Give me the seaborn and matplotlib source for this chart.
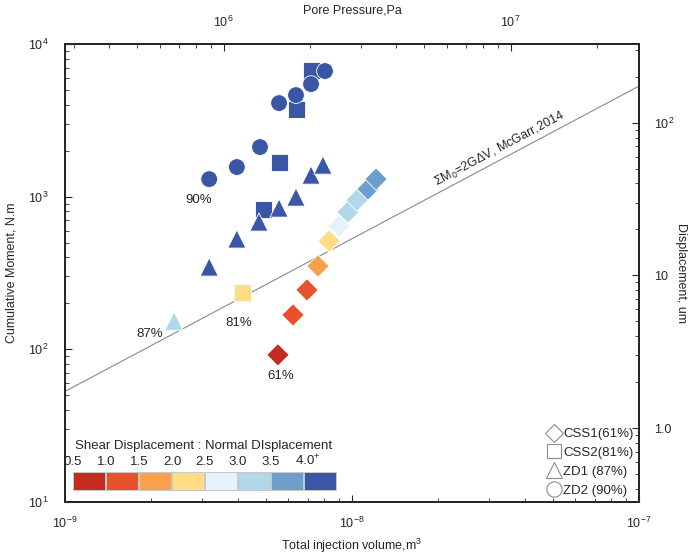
import numpy as np
import pandas as pd
import seaborn as sns
import matplotlib.pyplot as plt
from matplotlib.colors import ListedColormap
from matplotlib.lines import Line2D
from matplotlib.ticker import FixedLocator, FixedFormatter, NullFormatter

sns.set_style("ticks")
plt.rcParams['font.family'] = ['Liberation Sans', 'DejaVu Sans']
plt.rcParams['mathtext.fontset'] = 'custom'
plt.rcParams['mathtext.rm'] = 'Liberation Sans'
plt.rcParams['mathtext.it'] = 'Liberation Sans:italic'

# values
css1_volume = [5.52e-9, 6.23e-9, 6.97e-9, 7.61e-9, 8.32e-9, 9.01e-9, 9.68e-9, 1.041e-8, 1.137e-8, 1.213e-8]
css1_moment = [92, 168, 245, 351, 512, 642, 793, 950, 1122, 1303]
css1_bin = [0, 1, 1, 2, 3, 4, 5, 5, 6, 6]

css2_volume = [4.14e-9, 4.90e-9, 5.57e-9, 6.43e-9, 7.20e-9]
css2_moment = [234, 829, 1686, 3748, 6745]
css2_bin = [3, 7, 7, 7, 7]

zd1_volume = [2.40e-9, 3.18e-9, 3.97e-9, 4.74e-9, 5.57e-9, 6.38e-9, 7.20e-9, 7.92e-9]
zd1_moment = [153, 346, 528, 682, 842, 994, 1385, 1610]
zd1_bin = [5, 7, 7, 7, 7, 7, 7, 7]

zd2_volume = [3.18e-9, 3.97e-9, 4.78e-9, 5.57e-9, 6.38e-9, 7.20e-9, 8.05e-9]
zd2_moment = [1303, 1563, 2113, 4102, 4627, 5461, 6649]
zd2_bin = [7, 7, 7, 7, 7, 7, 7]

samples = ['CSS1', 'CSS2', 'ZD1', 'ZD2']
sample_labels = ['CSS1(61%)', 'CSS2(81%)', 'ZD1 (87%)', 'ZD2 (90%)']
percent_text = ['61%', '81%', '87%', '90%']
percent_pos = [(5.66e-9, 66.8), (4.04e-9, 148.6), (1.98e-9, 126), (2.93e-9, 950)]

ratio_ticks = ['0.5', '1.0', '1.5', '2.0', '2.5', '3.0', '3.5', '4.0$^{+}$']
ratio_colors = ['#C42A20', '#E9512B', '#F9A04D', '#FDDC84',
                '#E3F3F9', '#B0D8E8', '#6C9FCB', '#3A56A4']

mcgarr_volume = [1e-9, 1e-7]
mcgarr_moment = [53, 5300]

moment_per_um = 30.5   # cumulative moment -> displacement
pressure_per_m3 = 2.8e14  # injection volume -> pore pressure

df = pd.concat([
    pd.DataFrame({'volume': css1_volume, 'moment': css1_moment, 'bin': css1_bin, 'sample': 'CSS1'}),
    pd.DataFrame({'volume': css2_volume, 'moment': css2_moment, 'bin': css2_bin, 'sample': 'CSS2'}),
    pd.DataFrame({'volume': zd1_volume, 'moment': zd1_moment, 'bin': zd1_bin, 'sample': 'ZD1'}),
    pd.DataFrame({'volume': zd2_volume, 'moment': zd2_moment, 'bin': zd2_bin, 'sample': 'ZD2'}),
])

markers = {'CSS1': 'D', 'CSS2': 's', 'ZD1': '^', 'ZD2': 'o'}
sizes = {'CSS1': 130, 'CSS2': 150, 'ZD1': 170, 'ZD2': 145}
palette = dict(enumerate(ratio_colors))

fig = plt.figure(figsize=(6.96, 5.57), dpi=100)
ax = fig.add_axes([65 / 696, 1 - 502 / 557, 574 / 696, 458 / 557])

ax.plot(mcgarr_volume, mcgarr_moment, color='#8a8a8a', lw=0.8, zorder=1)

for s in samples:
    sns.scatterplot(data=df[df['sample'] == s], x='volume', y='moment', hue='bin',
                    palette=palette, marker=markers[s], s=sizes[s],
                    edgecolor='white', linewidth=0.6, legend=False, ax=ax, zorder=3)

ax.set_xscale('log')
ax.set_yscale('log')
ax.set_xlim(1e-9, 1e-7)
ax.set_ylim(10, 1e4)
ax.set_xlabel('Total injection volume,m$^3$', fontsize=9, labelpad=4)
ax.set_ylabel('Cumulative Moment, N.m', fontsize=9, labelpad=7)
ax.tick_params(which='both', direction='in', top=False, right=False, labelsize=9)
ax.tick_params(which='major', length=5)
ax.tick_params(axis='x', which='major', pad=10)
ax.tick_params(axis='y', which='major', pad=12)
ax.tick_params(which='minor', length=3)
for sp in ax.spines.values():
    sp.set_linewidth(1.3)

for t, (px, py) in zip(percent_text, percent_pos):
    ax.text(px, py, t, fontsize=9.5, ha='center', va='center')

ax.text(3.28e-8, 2050, r'$\Sigma$M$_0$=2G$\Delta$V, McGarr,2014', fontsize=9,
        rotation=28, ha='center', va='center', rotation_mode='anchor')

# right axis: displacement
ax2 = ax.twinx()
ax2.set_yscale('log')
ax2.set_ylim(10 / moment_per_um, 1e4 / moment_per_um)
ax2.yaxis.set_major_locator(FixedLocator([1, 10, 100]))
ax2.yaxis.set_major_formatter(FixedFormatter(['1.0', '10', '10$^2$']))
ax2.yaxis.set_minor_formatter(NullFormatter())
ax2.tick_params(which='both', direction='in', labelsize=9)
ax2.tick_params(which='major', length=5, pad=11)
ax2.tick_params(which='minor', length=3)
ax2.set_ylabel('Displacement, um', fontsize=9, rotation=270, labelpad=9)

# top axis: pore pressure
ax3 = ax.twiny()
ax3.set_xscale('log')
ax3.set_xlim(1e-9 * pressure_per_m3, 1e-7 * pressure_per_m3)
ax3.tick_params(which='both', direction='in', labelsize=9)
ax3.tick_params(which='major', length=5, pad=10)
ax3.tick_params(which='minor', length=3)
ax3.set_xlabel('Pore Pressure,Pa', fontsize=9, labelpad=1)
for a in (ax2, ax3):
    for sp in a.spines.values():
        sp.set_linewidth(1.3)

# shape legend
handles = [Line2D([], [], ls='', marker=markers[s], markersize=ms, markerfacecolor='white',
                  markeredgecolor='#8c8c8c', markeredgewidth=0.8)
           for s, ms in zip(samples, [9.5, 10.5, 11, 11])]
ax.legend(handles, sample_labels, loc='lower right', frameon=False, fontsize=9.5,
          handletextpad=0.1, labelspacing=0.5, borderpad=0.2, borderaxespad=0.2,
          handlelength=1.2)

# ratio colour key
cax = fig.add_axes([73 / 696, 1 - 491 / 557, 264 / 696, 19 / 557])
sns.heatmap(np.arange(8).reshape(1, 8), cmap=ListedColormap(ratio_colors),
            vmin=-0.5, vmax=7.5, cbar=False, linewidths=1.2, linecolor='#c8c8c8',
            xticklabels=False, yticklabels=False, ax=cax)
cax.tick_params(left=False, bottom=False)
for i, lab in enumerate(ratio_ticks):
    cax.text(i + (0.12 if i == 7 else 0), -0.2, lab, fontsize=9.5, ha='center', va='bottom')
cax.text(0.05, -1.05, 'Shear Displacement : Normal DIsplacement', fontsize=9.5,
         ha='left', va='bottom')

fig.savefig('out.png', dpi=100)
